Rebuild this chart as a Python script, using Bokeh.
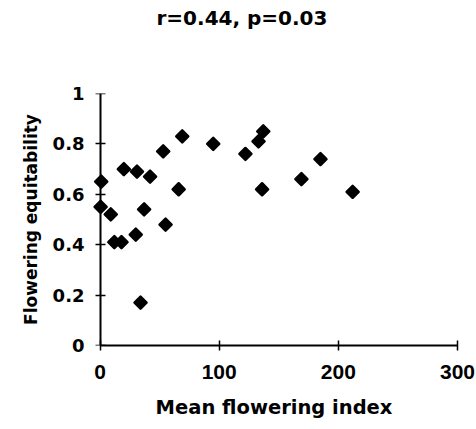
from bokeh.plotting import figure
from bokeh.models import Range1d, FixedTicker, Title, LinearAxis
from bokeh.embed import file_html
from bokeh.resources import INLINE

# Data
mean_flowering_index = [1, 0.5, 9, 12, 18, 20, 31, 30, 34, 37, 42, 53, 55, 66, 69,
                        95, 122, 133, 137, 136, 169, 185, 212]
flowering_equitability = [0.65, 0.55, 0.52, 0.41, 0.41, 0.70, 0.69, 0.44, 0.17, 0.54,
                          0.67, 0.77, 0.48, 0.62, 0.83, 0.80, 0.76, 0.81, 0.85, 0.62,
                          0.66, 0.74, 0.61]
x_ticks = [0, 100, 200, 300]
y_ticks = [0, 0.2, 0.4, 0.6, 0.8, 1]
y_tick_labels = {0: "0", 0.2: "0.2", 0.4: "0.4", 0.6: "0.6", 0.8: "0.8", 1: "1"}
title_text = "r=0.44, p=0.03"
x_label = "Mean flowering index"
y_label = "Flowering equitability"

p = figure(width=476, height=429, output_backend="svg", toolbar_location=None,
           x_range=Range1d(-8, 300), y_range=Range1d(0, 1),
           min_border_left=90, min_border_right=19, min_border_top=93, min_border_bottom=84)
# real title (outermost), with an empty spacer title between it and the frame
p.title = Title(text=title_text, align="left", offset=66, text_font="DejaVu Sans",
                text_font_size="20px", text_font_style="bold", text_color="black", standoff=0)
p.add_layout(Title(text=" ", text_font_size="20px", standoff=40), "above")
p.outline_line_color = None
p.grid.visible = False
p.background_fill_color = "white"
p.border_fill_color = "white"

p.scatter(mean_flowering_index, flowering_equitability, marker="square", size=8.5, angle=0.785398,
          fill_color="black", line_color="black", line_width=2.5, line_join="round")

for ax in (p.xaxis[0], p.yaxis[0]):
    ax.axis_line_width = 2
    ax.axis_line_color = "black"
    ax.major_tick_line_color = "black"
    ax.major_tick_line_width = 1.5
    ax.major_tick_in = 5
    ax.major_tick_out = 5
    ax.minor_tick_line_color = None
    ax.major_label_text_color = "black"
    ax.major_label_text_font_style = "bold"
    ax.axis_label_text_color = "black"
    ax.axis_label_text_font = "DejaVu Sans"
    ax.axis_label_text_font_style = "bold"

xa = p.xaxis[0]
xa.ticker = FixedTicker(ticks=x_ticks)
xa.bounds = (0, 300)
xa.major_label_text_font = "Liberation Sans"
xa.major_label_text_font_size = "21px"
xa.major_label_standoff = 14
xa.axis_label = x_label
xa.axis_label_text_font_size = "19.5px"
xa.axis_label_standoff = 14

# axis line and ticks drawn at x = 0
ya = p.yaxis[0]
ya.ticker = FixedTicker(ticks=y_ticks)
ya.fixed_location = 0
ya.major_label_text_font_size = "0px"
ya.major_label_text_color = None

# labels-only axis at the left edge of the frame
yl = LinearAxis(ticker=FixedTicker(ticks=y_ticks), major_label_overrides=y_tick_labels,
                axis_line_color=None, major_tick_line_color=None, minor_tick_line_color=None,
                major_tick_in=0, major_tick_out=5, major_label_standoff=1,
                major_label_text_font="DejaVu Sans", major_label_text_font_size="18px",
                major_label_text_font_style="bold", major_label_text_color="black",
                axis_label=y_label, axis_label_text_font="DejaVu Sans",
                axis_label_text_font_size="17px", axis_label_text_font_style="bold",
                axis_label_text_color="black", axis_label_standoff=9)
p.add_layout(yl, "left")

open("out.html", "w").write(file_html(p, INLINE))
